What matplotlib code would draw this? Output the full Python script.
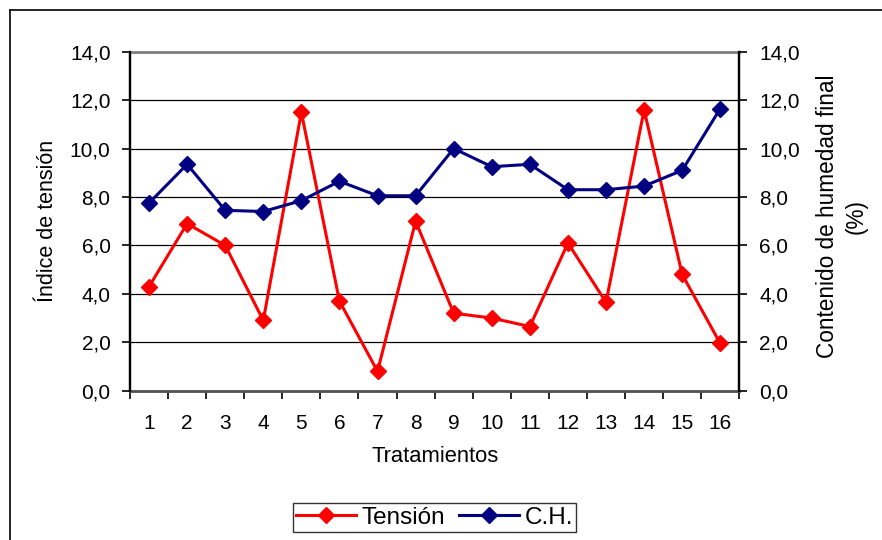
import matplotlib
matplotlib.use("Agg")
import matplotlib.pyplot as plt
from matplotlib.ticker import FixedLocator, FuncFormatter, NullFormatter
from matplotlib.lines import Line2D

plt.rcParams["font.family"] = ["Liberation Sans", "DejaVu Sans"]

# Data
tratamientos = list(range(1, 17))
tension = [4.3, 6.9, 6.0, 2.9, 11.5, 3.7, 0.8, 7.0, 3.2, 3.0, 2.65, 6.1, 3.65, 11.6, 4.8, 1.95]
contenido_humedad = [7.75, 9.35, 7.45, 7.4, 7.85, 8.65, 8.05, 8.05, 10.0, 9.25, 9.35, 8.3, 8.3, 8.45, 9.1, 11.65]
y_ticks = [0, 2, 4, 6, 8, 10, 12, 14]

TICK_FS = 15
LABEL_FS = 15.8
LEGEND_FS = 17.5
RED = "#FF0000"
NAVY = "#000080"

fig = plt.figure(figsize=(8.82, 5.40), dpi=100)
fig.patch.set_facecolor("white")

ax = fig.add_axes([130 / 882, 1 - 390.7 / 540, 609.3 / 882, 339 / 540])
ax2 = ax.twinx()

comma = FuncFormatter(lambda v, _: f"{v:.1f}".replace(".", ","))

for a in (ax, ax2):
    a.set_xlim(0.5, 16.5)
    a.set_ylim(0, 14)
    a.yaxis.set_major_locator(FixedLocator(y_ticks))
    a.yaxis.set_major_formatter(comma)

# Horizontal gridlines
ax.set_axisbelow(True)
ax.grid(axis="y", color="black", linewidth=0.9)
ax.grid(axis="x", visible=False)

# Category axis: labels at centres, tick marks between categories
ax.xaxis.set_major_locator(FixedLocator(tratamientos))
ax.xaxis.set_minor_locator(FixedLocator([i + 0.5 for i in range(0, 17)]))
ax.xaxis.set_minor_formatter(NullFormatter())
ax.tick_params(axis="x", which="major", length=0, pad=17, labelsize=TICK_FS)
ax.tick_params(axis="x", which="minor", length=6, width=1.2, direction="out", color="black")
ax.tick_params(axis="y", which="major", length=6, width=1.2, direction="out",
               pad=8, labelsize=TICK_FS)
ax2.tick_params(axis="y", which="major", length=6, width=1.2, direction="out",
                pad=8.5, labelsize=TICK_FS)

for s in ("left", "right"):
    ax.spines[s].set_color("black")
    ax.spines[s].set_linewidth(1.6)
    ax2.spines[s].set_color("black")
    ax2.spines[s].set_linewidth(1.6)
ax.spines["top"].set_color("#808080")
ax.spines["top"].set_linewidth(2.0)
ax2.spines["top"].set_visible(False)
ax.spines["bottom"].set_color("#505050")
ax.spines["bottom"].set_linewidth(2.0)
ax2.spines["bottom"].set_visible(False)

l1, = ax.plot(tratamientos, tension, color=RED, linewidth=2.2, marker="D",
              markersize=8, markeredgewidth=1, markeredgecolor=RED,
              markerfacecolor=RED, label="Tensión", clip_on=False)
l2, = ax2.plot(tratamientos, contenido_humedad, color=NAVY, linewidth=2.2, marker="D",
               markersize=8, markeredgewidth=1, markeredgecolor=NAVY,
               markerfacecolor=NAVY, label="C.H.", clip_on=False)

# Axis titles
ax.set_xlabel("Tratamientos", fontsize=LABEL_FS)
ax.xaxis.label.set_va("center")
ax.xaxis.set_label_coords(0.5, -(457 - 390.7) / 339)

ax.set_ylabel("Índice de tensión", fontsize=15.5)
ax.yaxis.label.set_va("center")
ax.yaxis.set_label_coords((48 - 130) / 609.3, (390.7 - 221) / 339)

ax2.set_ylabel("Contenido de humedad final\n(%)", fontsize=16.3, rotation=90,
               multialignment="center", linespacing=1.3)
ax2.yaxis.label.set_va("center")
ax2.yaxis.label.set_ha("center")
ax2.yaxis.set_label_coords((842 - 130) / 609.3, (390.7 - 216) / 339)

leg = fig.legend(handles=[l1, l2], loc="center", ncol=2,
                 bbox_to_anchor=(434.5 / 882, 1 - 517.5 / 540), fontsize=LEGEND_FS,
                 frameon=True, fancybox=False, edgecolor="black",
                 handlelength=2.45, handletextpad=0.22, columnspacing=0.6,
                 borderpad=0.15, borderaxespad=0)
leg.get_frame().set_linewidth(1.0)

# Outer chart border
fig.add_artist(Line2D([10 / 882, 1.0], [1 - 10 / 540, 1 - 10 / 540],
                      transform=fig.transFigure, color="black", linewidth=1.2))
fig.add_artist(Line2D([10 / 882, 10 / 882], [0.0, 1 - 10 / 540],
                      transform=fig.transFigure, color="black", linewidth=1.2))

fig.savefig("out.png", dpi=100)
